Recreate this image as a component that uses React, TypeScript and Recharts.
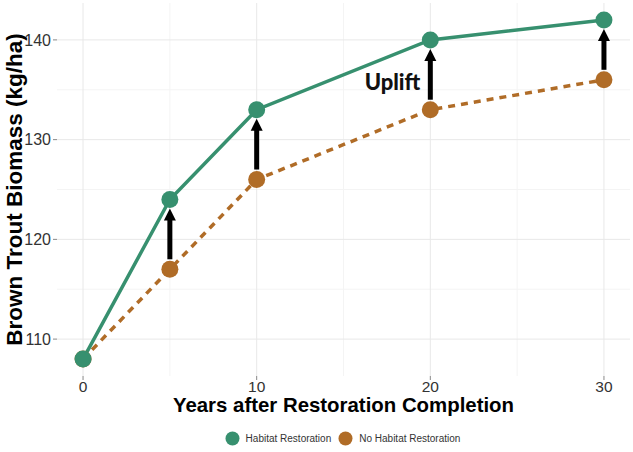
import React from 'react';
import {
  LineChart,
  Line,
  XAxis,
  YAxis,
  CartesianGrid,
  ReferenceLine,
  ReferenceArea,
  Legend,
  Label,
} from 'recharts';

const years = [0, 5, 10, 20, 30];
const habitatRestoration = [108, 124, 133, 140, 142];
const noHabitatRestoration = [108, 117, 126, 133, 136];
const arrowYears = [5, 10, 20, 30];
const xTicks = [0, 10, 20, 30];
const yTicks = [110, 120, 130, 140];
const xMinor = [5, 15, 25];
const yMinor = [115, 125, 135];
const upliftText = 'Uplift';
const upliftYear = 20;

const GREEN = '#37906f';
const BROWN = '#b06c27';
const FONT = '"Liberation Sans", Arial, sans-serif';

const rows = years.map((year, i) => ({
  year,
  habitat: habitatRestoration[i],
  noHabitat: noHabitatRestoration[i],
}));

const legendItems = [
  { name: 'Habitat Restoration', color: GREEN },
  { name: 'No Habitat Restoration', color: BROWN },
];

// vertical arrow from the "no restoration" point up to the "restoration" point
const Arrow = (props: any) => {
  const { x1, y1, y2, text } = props;
  const start = y1 - 10;
  const tip = y2 + 9;
  const head = 12;
  return (
    <g>
      <line x1={x1} x2={x1} y1={start} y2={tip + head - 1} stroke="#000" strokeWidth={5} />
      <polygon points={`${x1},${tip} ${x1 - 6},${tip + head} ${x1 + 6},${tip + head}`} fill="#000" />
      {text && (
        <text
          x={x1 - 10}
          y={(start + tip) / 2 + 7}
          textAnchor="end"
          dominantBaseline="central"
          fontFamily="Lato, sans-serif"
          fontWeight={900}
          fontSize={22}
          fill="#111"
        >
          {text}
        </text>
      )}
    </g>
  );
};

const LegendContent = () => (
  <div
    style={{
      height: 31,
      display: 'flex',
      justifyContent: 'center',
      alignItems: 'center',
      paddingTop: 4,
      paddingLeft: 62,
      boxSizing: 'border-box',
      fontFamily: FONT,
      fontSize: 10,
      color: '#333',
    }}
  >
    {legendItems.map((item) => (
      <div key={item.name} style={{ display: 'flex', alignItems: 'center', marginRight: 7 }}>
        <svg width={15} height={15} style={{ marginRight: 6 }}>
          <circle cx={7.5} cy={7.5} r={7} fill={item.color} />
        </svg>
        <span>{item.name}</span>
      </div>
    ))}
  </div>
);

export default function App() {
  return (
    <div style={{ position: 'absolute', left: 0, top: 0, background: '#fff' }}>
      <LineChart width={633} height={452} data={rows} margin={{ top: 3, right: 3, left: 0, bottom: 0 }}>
        <CartesianGrid stroke="#f4f4f4" strokeWidth={1} verticalValues={xMinor} horizontalValues={yMinor} />
        <CartesianGrid stroke="#e8e8e8" strokeWidth={1} verticalValues={xTicks} horizontalValues={yTicks} />
        <XAxis
          dataKey="year"
          type="number"
          domain={[-1.5, 31.5]}
          ticks={xTicks}
          allowDataOverflow
          height={45}
          axisLine={false}
          tickSize={4}
          tickMargin={1}
          tickLine={{ stroke: '#888' }}
          tick={{ fontSize: 15.5, fill: '#333', fontFamily: FONT }}
        >
          <Label
            content={({ viewBox }: any) => (
              <text
                x={viewBox.x + viewBox.width / 2}
                y={411.5}
                textAnchor="middle"
                fontFamily={FONT}
                fontWeight={700}
                fontSize={20.4}
                fill="#000"
              >
                Years after Restoration Completion
              </text>
            )}
          />
        </XAxis>
        <YAxis
          type="number"
          domain={[106.3, 143.7]}
          ticks={yTicks}
          allowDataOverflow
          width={57}
          axisLine={false}
          tickSize={4}
          tickMargin={2}
          tickLine={{ stroke: '#888' }}
          tick={{ fontSize: 16, fill: '#333', fontFamily: FONT }}
        >
          <Label
            content={({ viewBox }: any) => {
              const cx = 21.5;
              const cy = viewBox.y + viewBox.height / 2;
              return (
                <text
                  x={cx}
                  y={cy}
                  transform={`rotate(-90 ${cx} ${cy})`}
                  textAnchor="middle"
                  fontFamily={FONT}
                  fontWeight={700}
                  fontSize={22.5}
                  fill="#000"
                >
                  Brown Trout Biomass (kg/ha)
                </text>
              );
            }}
          />
        </YAxis>
        <ReferenceArea fill="none" stroke="#c4c4c4" strokeWidth={1.2} fillOpacity={0} />
        <Legend verticalAlign="bottom" height={31} content={<LegendContent />} />
        <Line
          dataKey="noHabitat"
          name="No Habitat Restoration"
          stroke={BROWN}
          strokeWidth={3.5}
          strokeDasharray="7 6"
          dot={{ r: 8.5, fill: BROWN, stroke: 'none' }}
          activeDot={false}
          isAnimationActive={false}
        />
        <Line
          dataKey="habitat"
          name="Habitat Restoration"
          stroke={GREEN}
          strokeWidth={3.5}
          dot={{ r: 8.5, fill: GREEN, stroke: 'none' }}
          activeDot={false}
          isAnimationActive={false}
        />
        {arrowYears.map((yr) => {
          const i = years.indexOf(yr);
          return (
            <ReferenceLine
              key={yr}
              segment={[
                { x: yr, y: noHabitatRestoration[i] },
                { x: yr, y: habitatRestoration[i] },
              ]}
              shape={(p: any) => <Arrow {...p} text={yr === upliftYear ? upliftText : undefined} />}
            />
          );
        })}
      </LineChart>
    </div>
  );
}
